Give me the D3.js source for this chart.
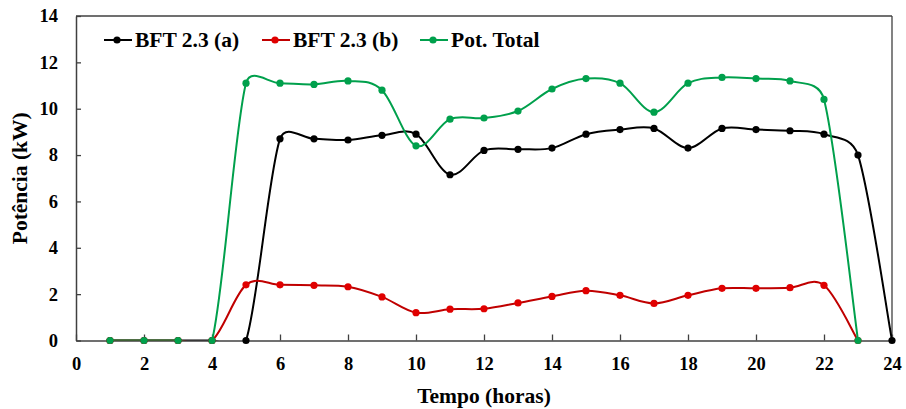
<!DOCTYPE html>
<html><head><meta charset="utf-8">
<script src="https://cdn.jsdelivr.net/npm/d3@7"></script>
<style>
html,body{margin:0;padding:0;background:#fff;}
svg{display:block;}
text{font-family:"Liberation Serif","Times New Roman",serif;font-weight:bold;fill:#000;}
</style></head><body>
<svg id="chart" width="906" height="409"></svg>
<script>
const hoursA = d3.range(1, 25);
const valuesA = [0,0,0,0,0,8.7,8.7,8.65,8.85,8.9,7.15,8.2,8.25,8.3,8.9,9.1,9.15,8.3,9.15,9.1,9.05,8.9,8.0,0];
const hoursB = d3.range(1, 24);
const valuesB = [0,0,0,0,2.4,2.4,2.38,2.32,1.88,1.2,1.35,1.37,1.62,1.9,2.15,1.95,1.6,1.95,2.25,2.25,2.28,2.38,0];
const hoursT = d3.range(1, 24);
const valuesT = [0,0,0,0,11.1,11.1,11.05,11.2,10.8,8.4,9.55,9.6,9.9,10.85,11.3,11.1,9.85,11.1,11.35,11.3,11.2,10.4,0];
const seriesNames = ["BFT 2.3 (a)", "BFT 2.3 (b)", "Pot. Total"];
const xTicks = d3.range(0, 25, 2);
const yTicks = d3.range(0, 15, 2);

const series = [
  {name: seriesNames[0], xs: hoursA, ys: valuesA, line: "#000000", dot: "#000000"},
  {name: seriesNames[1], xs: hoursB, ys: valuesB, line: "#c00000", dot: "#e00000"},
  {name: seriesNames[2], xs: hoursT, ys: valuesT, line: "#00a04c", dot: "#00a04c"}
];

const svg = d3.select("#chart");
const L = 76, R = 892, T = 16, B = 340.5;
const x = d3.scaleLinear().domain([0, 24]).range([L, R]);
const y = d3.scaleLinear().domain([0, 14]).range([B, T]);
const axisColor = "#404040";

svg.append("defs").append("clipPath").attr("id", "plotClip")
  .append("rect").attr("x", L).attr("y", T).attr("width", R - L).attr("height", B - T);

svg.append("line").attr("x1", L).attr("x2", R).attr("y1", T).attr("y2", T).attr("stroke", axisColor).attr("stroke-width", 1.3);
svg.append("line").attr("x1", R).attr("x2", R).attr("y1", T).attr("y2", B).attr("stroke", axisColor).attr("stroke-width", 1.3);

const xAxis = svg.append("g").attr("transform", `translate(0,${B})`)
  .call(d3.axisBottom(x).tickValues(xTicks).tickSizeInner(-6).tickSizeOuter(0).tickPadding(16).tickFormat(d3.format("d")));
const yAxis = svg.append("g").attr("transform", `translate(${L},0)`)
  .call(d3.axisLeft(y).tickValues(yTicks).tickSizeInner(-5).tickSizeOuter(0).tickPadding(18).tickFormat(d3.format("d")));
[xAxis, yAxis].forEach(g => {
  g.select(".domain").attr("stroke", axisColor).attr("stroke-width", 1.5);
  g.selectAll(".tick line").attr("stroke", axisColor).attr("stroke-width", 1.3);
  g.selectAll(".tick text").style("font-size", "18.5px").attr("fill", "#000");
});

svg.append("text").attr("x", (L + R) / 2).attr("y", 403).attr("text-anchor", "middle")
  .style("font-size", "21.5px").text("Tempo (horas)");
svg.append("text").attr("transform", `translate(27,${(T + B) / 2}) rotate(-90)`).attr("text-anchor", "middle")
  .style("font-size", "21.5px").text("Potência (kW)");

// Excel-style smoothed line (Bezier, control arm = min(|P(i+1)-P(i-1)|/6, segment/2))
function smoothPath(pts) {
  const p = d3.path();
  const dist = (a, b) => Math.hypot(b[0] - a[0], b[1] - a[1]);
  p.moveTo(pts[0][0], pts[0][1]);
  for (let i = 0; i < pts.length - 1; i++) {
    const p0 = pts[i - 1] || pts[i], p1 = pts[i], p2 = pts[i + 1], p3 = pts[i + 2] || pts[i + 1];
    const d12 = dist(p1, p2), d02 = dist(p0, p2), d13 = dist(p1, p3);
    const s1 = d02 === 0 ? 0 : (d02 / 6 < d12 / 2 ? 1 / 6 : (d12 / 2) / d02);
    const s2 = d13 === 0 ? 0 : (d13 / 6 < d12 / 2 ? 1 / 6 : (d12 / 2) / d13);
    const c1 = [p1[0] + (p2[0] - p0[0]) * s1, p1[1] + (p2[1] - p0[1]) * s1];
    const c2 = [p2[0] - (p3[0] - p1[0]) * s2, p2[1] - (p3[1] - p1[1]) * s2];
    p.bezierCurveTo(c1[0], c1[1], c2[0], c2[1], p2[0], p2[1]);
  }
  return p.toString();
}

series.forEach(s => {
  const pts = s.xs.map((h, i) => [x(h), y(s.ys[i])]);
  svg.append("path").attr("d", smoothPath(pts)).attr("clip-path", "url(#plotClip)")
    .attr("fill", "none").attr("stroke", s.line).attr("stroke-width", 2);
  svg.append("g").selectAll("circle").data(pts).join("circle")
    .attr("cx", d => d[0]).attr("cy", d => d[1]).attr("r", 3.6).attr("fill", s.dot);
});

const legendX = [104, 262, 420];
series.forEach((s, i) => {
  const g = svg.append("g").attr("transform", `translate(${legendX[i]},40)`);
  g.append("line").attr("x1", 0).attr("x2", 28).attr("y1", 0).attr("y2", 0).attr("stroke", s.line).attr("stroke-width", 2);
  g.append("circle").attr("cx", 13).attr("cy", 0).attr("r", 3.6).attr("fill", s.dot);
  g.append("text").attr("x", 31).attr("y", 7).style("font-size", "21.5px").text(s.name);
});
</script>
</body></html>
